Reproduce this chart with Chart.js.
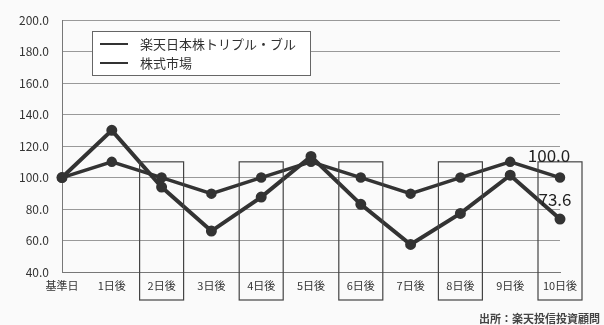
<!DOCTYPE html>
<html>
<head>
<meta charset="utf-8">
<script src="https://cdn.jsdelivr.net/npm/chart.js@4"></script>
<style>
  html, body { margin: 0; padding: 0; background: #fafafa; }
  #wrap { width: 604px; height: 325px; position: relative; }
</style>
</head>
<body>
<div id="wrap"><canvas id="chart" width="604" height="325"></canvas></div>
<script>
// data
const days = ['基準日', '1日後', '2日後', '3日後', '4日後', '5日後', '6日後', '7日後', '8日後', '9日後', '10日後'];
const tripleBull = [100, 130, 94, 66, 87.6, 113.4, 83, 57.5, 77.2, 101.5, 73.6];
const market = [100, 110, 100, 89.8, 100, 110, 100, 89.8, 100, 110, 100];
const boxedDays = ['2日後', '4日後', '6日後', '8日後', '10日後'];
const seriesNames = ['楽天日本株トリプル・ブル', '株式市場'];
const endLabels = ['100.0', '73.6'];
const sourceNote = '出所：楽天投信投資顧問';

const FONT = "'Noto Sans CJK JP', 'Noto Sans', sans-serif";
const INK = '#333';

// boxes around every other day, legend box, end values and source note
const overlay = {
  id: 'overlay',
  afterDraw(chart) {
    const ctx = chart.ctx;
    const x = chart.scales.x;
    const y = chart.scales.y;
    const area = chart.chartArea;

    ctx.save();
    ctx.strokeStyle = '#444';
    ctx.lineWidth = 1.2;
    boxedDays.forEach(d => {
      const cx = x.getPixelForValue(days.indexOf(d));
      const top = y.getPixelForValue(110);
      ctx.strokeRect(cx - 22, top, 44, area.bottom + 28 - top);
    });

    // legend
    ctx.fillStyle = '#fff';
    ctx.fillRect(92, 31, 218, 44);
    ctx.strokeStyle = '#666';
    ctx.lineWidth = 1;
    ctx.strokeRect(92.5, 31.5, 218, 44);
    ctx.font = '13px ' + FONT;
    ctx.textBaseline = 'middle';
    chart.data.datasets.forEach((ds, i) => {
      const ly = 44 + i * 19;
      ctx.strokeStyle = ds.borderColor;
      ctx.lineWidth = 2;
      ctx.beginPath();
      ctx.moveTo(100, ly);
      ctx.lineTo(128, ly);
      ctx.stroke();
      ctx.fillStyle = INK;
      ctx.fillText(ds.label, 140, ly);
    });

    // values at the last day
    const last = days.length - 1;
    ctx.font = '17px ' + FONT;
    ctx.fillStyle = '#222';
    ctx.textAlign = 'center';
    ctx.fillText(endLabels[0], x.getPixelForValue(last) - 11, y.getPixelForValue(market[last]) - 22);
    ctx.fillText(endLabels[1], x.getPixelForValue(last) - 5, y.getPixelForValue(tripleBull[last]) - 20);

    ctx.font = 'bold 11px ' + FONT;
    ctx.fillStyle = '#444';
    ctx.textAlign = 'right';
    ctx.fillText(sourceNote, 600, 319);
    ctx.restore();
  }
};

new Chart(document.getElementById('chart'), {
  type: 'line',
  data: {
    labels: days,
    datasets: [{
      label: seriesNames[0],
      data: tripleBull,
      borderColor: INK,
      backgroundColor: INK,
      borderWidth: 4,
      pointRadius: 3.5,
      pointBackgroundColor: INK,
      tension: 0
    }, {
      label: seriesNames[1],
      data: market,
      borderColor: INK,
      backgroundColor: INK,
      borderWidth: 3.5,
      pointRadius: 3.5,
      pointBackgroundColor: INK,
      tension: 0
    }]
  },
  options: {
    responsive: false,
    animation: false,
    layout: { padding: { top: 17, right: 44, bottom: 0, left: 0 } },
    plugins: {
      legend: { display: false },
      tooltip: { enabled: false }
    },
    scales: {
      x: {
        offset: false,
        grid: { display: false, drawTicks: false },
        border: { color: '#777', width: 1 },
        ticks: {
          color: INK,
          padding: 7,
          maxRotation: 0,
          autoSkip: false,
          font: { size: 11, family: FONT }
        },
        afterFit(scale) { scale.height = 53; }
      },
      y: {
        min: 40,
        max: 200,
        grid: { color: '#999', lineWidth: 1, drawTicks: false },
        border: { color: '#777', width: 1 },
        ticks: {
          stepSize: 20,
          color: INK,
          padding: 13,
          font: { size: 12, family: FONT },
          callback: v => v.toFixed(1)
        },
        afterFit(scale) { scale.width = 62; }
      }
    }
  },
  plugins: [overlay]
});
</script>
</body>
</html>
